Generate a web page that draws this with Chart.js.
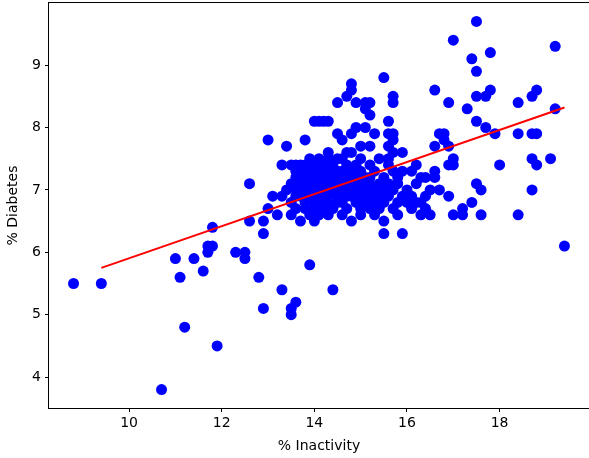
<!DOCTYPE html>
<html>
<head>
<meta charset="utf-8">
<script src="https://cdn.jsdelivr.net/npm/chart.js@4/dist/chart.umd.min.js"></script>
<style>
  html, body { margin: 0; padding: 0; background: #fff; overflow: hidden; }
</style>
</head>
<body>
<canvas id="grafica" width="589" height="458"></canvas>
<script>
// Datos: % inactividad (x) y % diabetes (y) por condado
const inactivity = [
    8.8, 9.4, 10.7, 11.0, 11.1, 11.2, 11.4, 11.6, 11.7, 11.7,
    11.8, 11.8, 11.9, 12.3, 12.5, 12.5, 12.6, 12.6, 12.8, 12.9,
    12.9, 12.9, 13.0, 13.0, 13.1, 13.2, 13.3, 13.3, 13.4, 13.5,
    13.5, 13.6, 13.9, 14.4, 13.7, 13.6, 13.6,
    13.8, 14.0, 14.1, 14.2, 14.3, 14.5, 14.7, 14.8, 14.8, 14.9,
    15.1, 15.2, 15.1, 15.2, 15.5, 15.7, 15.7, 15.6, 14.5, 14.6,
    14.8, 14.9, 15.1, 15.3, 15.6, 15.7, 15.7, 15.6, 15.7, 15.9,
    15.0, 15.2, 14.7, 14.8, 14.3, 14.1, 14.5, 14.7, 15.4, 15.2,
    15.6, 15.6, 15.7, 15.9, 14.4, 14.2, 14.1,
    13.9, 14.3, 14.6, 15.0,
    13.5, 13.7, 13.8, 14.0, 14.9, 16.2,
    13.6, 13.8, 13.9, 14.0, 14.3, 14.5, 14.6, 14.8, 15.0, 15.3, 16.1,
    13.7, 13.9, 14.0, 14.2, 14.3, 14.4, 14.6, 14.7, 14.9, 15.1, 15.2, 15.5, 15.8, 16.6,
    13.5, 13.7, 13.8, 14.0, 14.1, 14.2, 14.4, 14.5, 14.7, 14.8, 15.0, 15.2, 15.4, 15.6, 15.8,
    13.4, 13.6, 13.7, 13.8, 13.9, 14.0, 14.1, 14.3, 14.4, 14.5, 14.6, 14.8, 14.9, 15.1, 15.3, 15.5, 15.7, 16.0, 16.7,
    13.3, 13.6, 13.7, 13.9, 14.0, 14.2, 14.3, 14.5, 14.7, 14.8, 15.0, 15.2, 15.4, 15.6, 15.9, 16.1,
    13.5, 13.8, 14.0, 14.1, 14.3, 14.5, 14.6, 14.9, 15.1, 15.3, 15.5, 15.8, 16.0, 16.2,
    13.6, 13.8, 14.0, 14.2, 14.4, 14.7, 15.0, 15.2, 15.4, 15.7, 16.1,
    13.5, 13.9, 14.1, 14.3, 14.6, 15.0, 15.3, 15.8,
    14.0, 14.8, 15.5,
    16.3, 16.5, 16.4, 16.3, 16.4, 16.5, 16.2, 16.3, 16.4, 16.6,
    15.5, 15.9, 17.0, 17.2, 17.2, 17.4, 17.6, 18.4, 19.4, 16.9,
    17.5, 17.6, 18.7, 18.0, 18.7, 18.8, 19.1, 16.9, 17.0, 17.0,
    16.6, 16.9, 16.8, 16.7, 16.8, 17.9, 18.4, 18.7, 18.8, 17.7,
    17.5, 17.3, 19.2, 16.9, 18.4, 17.5, 17.7, 18.7, 16.6, 17.8,
    18.8, 17.5, 17.4, 17.8, 19.2, 17.0, 17.5
];
const diabetes = [
    5.5, 5.5, 3.8, 5.9, 5.6, 4.8, 5.9, 5.7, 6.0, 6.1,
    6.1, 6.4, 4.5, 6.0, 6.0, 5.9, 6.5, 7.1, 5.6, 5.1,
    6.3, 6.5, 6.7, 7.8, 6.9, 6.6, 5.4, 7.4, 7.7, 5.0,
    5.1, 5.2, 5.8, 5.4, 6.5, 7.4, 7.2,
    7.8, 8.1, 8.1, 8.1, 8.1, 8.4, 8.5, 8.6, 8.7, 8.4,
    8.4, 8.4, 8.3, 8.2, 8.8, 8.5, 8.4, 8.1, 7.9, 7.8,
    7.9, 8.0, 8.0, 7.9, 7.9, 7.9, 7.8, 7.7, 7.6, 7.6,
    7.7, 7.7, 7.6, 7.6, 7.6, 7.5, 7.5, 7.4, 7.5, 7.4,
    7.5, 7.4, 7.3, 7.3, 7.4, 7.4, 7.3,
    7.5, 7.5, 7.5, 7.5,
    7.4, 7.4, 7.4, 7.4, 7.4, 7.4,
    7.3, 7.3, 7.3, 7.3, 7.3, 7.3, 7.3, 7.3, 7.3, 7.3, 7.3,
    7.2, 7.2, 7.2, 7.2, 7.2, 7.2, 7.2, 7.2, 7.2, 7.2, 7.2, 7.2, 7.2, 7.2,
    7.1, 7.1, 7.1, 7.1, 7.1, 7.1, 7.1, 7.1, 7.1, 7.1, 7.1, 7.1, 7.1, 7.1, 7.1,
    7.0, 7.0, 7.0, 7.0, 7.0, 7.0, 7.0, 7.0, 7.0, 7.0, 7.0, 7.0, 7.0, 7.0, 7.0, 7.0, 7.0, 7.0, 7.0,
    6.9, 6.9, 6.9, 6.9, 6.9, 6.9, 6.9, 6.9, 6.9, 6.9, 6.9, 6.9, 6.9, 6.9, 6.9, 6.9,
    6.8, 6.8, 6.8, 6.8, 6.8, 6.8, 6.8, 6.8, 6.8, 6.8, 6.8, 6.8, 6.8, 6.8,
    6.7, 6.7, 6.7, 6.7, 6.7, 6.7, 6.7, 6.7, 6.7, 6.7, 6.7,
    6.6, 6.6, 6.6, 6.6, 6.6, 6.6, 6.6, 6.6,
    6.5, 6.5, 6.5,
    6.6, 6.6, 6.7, 6.8, 6.9, 7.0, 7.1, 7.2, 7.2, 7.3,
    6.3, 6.3, 6.6, 6.6, 6.7, 6.8, 6.6, 6.6, 6.1, 6.9,
    7.1, 7.0, 7.0, 7.4, 7.5, 7.4, 7.5, 7.4, 7.4, 7.5,
    7.7, 7.7, 7.8, 7.9, 7.9, 7.9, 7.9, 7.9, 7.9, 8.0,
    8.1, 8.3, 8.3, 8.4, 8.4, 8.5, 8.5, 8.5, 8.6, 8.6,
    8.6, 8.9, 9.1, 9.2, 9.3, 9.4, 9.7
];

// Recta de regresión (extremos)
const fitX = [9.4, 19.4];
const fitY = [5.75, 8.32];

// Marcas de los ejes
const xTicks = [10, 12, 14, 16, 18];
const yTicks = [4, 5, 6, 7, 8, 9];

const puntos = inactivity.map((x, i) => ({ x: x, y: diabetes[i] }));
const recta = fitX.map((x, i) => ({ x: x, y: fitY[i] }));

// Marco negro alrededor del área de la gráfica
const marco = {
    id: "marco",
    afterDraw(chart) {
        const a = chart.chartArea;
        const c = chart.ctx;
        c.save();
        c.strokeStyle = "#000";
        c.lineWidth = 1;
        c.strokeRect(a.left - 0.5, a.top - 0.5, a.right - a.left + 1, a.bottom - a.top + 1);
        c.restore();
    }
};

const fuente = { family: "'DejaVu Sans', sans-serif", size: 14 };

const ctx = document.getElementById("grafica").getContext("2d");
new Chart(ctx, {
    type: "scatter",
    data: {
        datasets: [
            {
                type: "line",
                data: recta,
                borderColor: "#ff0000",
                borderWidth: 2,
                pointRadius: 0,
                fill: false,
                order: 0
            },
            {
                data: puntos,
                backgroundColor: "#0000ff",
                borderWidth: 0,
                pointRadius: 5.5,
                pointHoverRadius: 5.5,
                order: 1
            }
        ]
    },
    options: {
        responsive: false,
        animation: false,
        devicePixelRatio: 1,
        layout: { autoPadding: false, padding: { top: 3, right: 0, bottom: 0, left: 0 } },
        plugins: {
            legend: { display: false },
            tooltip: { enabled: false }
        },
        scales: {
            x: {
                type: "linear",
                min: 8.27,
                max: 19.93,
                afterBuildTicks: (s) => { s.ticks = xTicks.map(v => ({ value: v })); },
                afterFit: (s) => { s.height = 50; s.paddingLeft = 0; s.paddingRight = 0; },
                grid: { drawOnChartArea: false, color: "#000", tickLength: 4 },
                border: { display: false },
                ticks: { color: "#000", font: fuente, padding: 3, maxRotation: 0 },
                title: { display: true, text: "% Inactivity", color: "#000", font: fuente, padding: { top: 2, bottom: 3 } }
            },
            y: {
                type: "linear",
                min: 3.505,
                max: 9.995,
                afterBuildTicks: (s) => { s.ticks = yTicks.map(v => ({ value: v })); },
                afterFit: (s) => { s.width = 49; s.paddingTop = 0; s.paddingBottom = 0; },
                grid: { drawOnChartArea: false, color: "#000", tickLength: 4 },
                border: { display: false },
                ticks: { color: "#000", font: fuente, padding: 4 },
                title: { display: true, text: "% Diabetes", color: "#000", font: fuente, padding: { top: 5, bottom: 2 } }
            }
        }
    },
    plugins: [marco]
});
</script>
</body>
</html>
